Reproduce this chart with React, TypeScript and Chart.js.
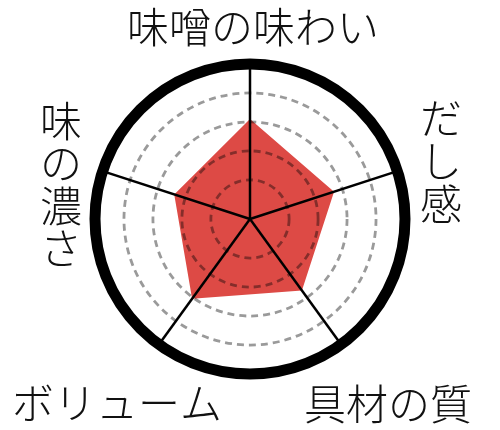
import React, { useEffect, useRef } from "react";
import { Chart, registerables } from "chart.js";

Chart.register(...registerables);

const categories = ["味噌の味わい", "だし感", "具材の質", "ボリューム", "味の濃さ"];
const scores = [3.1, 2.7, 2.7, 3.05, 2.4];
const gridTicks = [-0.35, 1, 2, 3, 4, 5];

const FONT = '300 42px "Noto Sans CJK JP", "Noto Sans CJK SC", sans-serif';

// label placement (offsets from the scale centre) and writing direction
const labelLayout = [
  { dx: 3, dy: -192, vertical: false, pitch: 0 },
  { dx: 191, dy: -101, vertical: true, pitch: 43 },
  { dx: 138, dy: 185, vertical: false, pitch: 0 },
  { dx: -133, dy: 184, vertical: false, pitch: 0 },
  { dx: -189, dy: -98, vertical: true, pitch: 42.3 },
];

const multiplyPlugin = {
  id: "multiplyFill",
  beforeDatasetsDraw(chart: any) {
    chart.ctx.save();
    chart.ctx.globalCompositeOperation = "multiply";
  },
  afterDatasetsDraw(chart: any) {
    chart.ctx.restore();
  },
};

const labelPlugin = {
  id: "radarLabels",
  afterDraw(chart: any) {
    const r = chart.scales.r;
    const ctx = chart.ctx;
    ctx.save();
    ctx.font = FONT;
    ctx.fillStyle = "#111";
    ctx.textAlign = "center";
    ctx.textBaseline = "middle";
    categories.forEach((text, i) => {
      const l = labelLayout[i];
      const x = r.xCenter + l.dx;
      const y = r.yCenter + l.dy;
      if (l.vertical) {
        Array.from(text).forEach((ch, k) => ctx.fillText(ch, x, y + k * l.pitch));
      } else {
        ctx.fillText(text, x, y);
      }
    });
    ctx.restore();
  },
};

export default function App() {
  const ref = useRef<HTMLCanvasElement | null>(null);
  useEffect(() => {
    if (!ref.current) return;
    const chart = new Chart(ref.current, {
      type: "radar",
      data: {
        labels: categories,
        datasets: [
          {
            data: scores,
            backgroundColor: "#dd4a45",
            borderWidth: 0,
            pointRadius: 0,
            fill: "start",
          },
        ],
      },
      options: {
        responsive: false,
        animation: false,
        layout: { padding: { left: 95, right: 95, top: 64, bottom: 56 } },
        plugins: { legend: { display: false }, tooltip: { enabled: false } },
        scales: {
          r: {
            min: -0.35,
            max: 5,
            afterBuildTicks: (scale: any) => {
              scale.ticks = gridTicks.map((value) => ({ value }));
            },
            ticks: { display: false },
            pointLabels: { display: false },
            angleLines: { display: true, color: "#000", lineWidth: 2.5 },
            grid: {
              circular: true,
              color: (c: any) =>
                c.tick && c.tick.value === 5 ? "#000" : c.tick && c.tick.value > 0 ? "#9a9a9a" : "rgba(0,0,0,0)",
              lineWidth: (c: any) =>
                c.tick && c.tick.value === 5 ? 11 : c.tick && c.tick.value > 0 ? 2.8 : 0,
            },
            border: {
              dash: (c: any) => (c.tick && c.tick.value === 5 ? [] : [7, 5]),
            },
          },
        },
      },
      plugins: [multiplyPlugin, labelPlugin],
    } as any);
    return () => chart.destroy();
  }, []);
  return (
    <div style={{ position: "fixed", left: 0, top: 0, width: 500, height: 430, background: "#fff" }}>
      <canvas ref={ref} width={500} height={430} />
    </div>
  );
}
